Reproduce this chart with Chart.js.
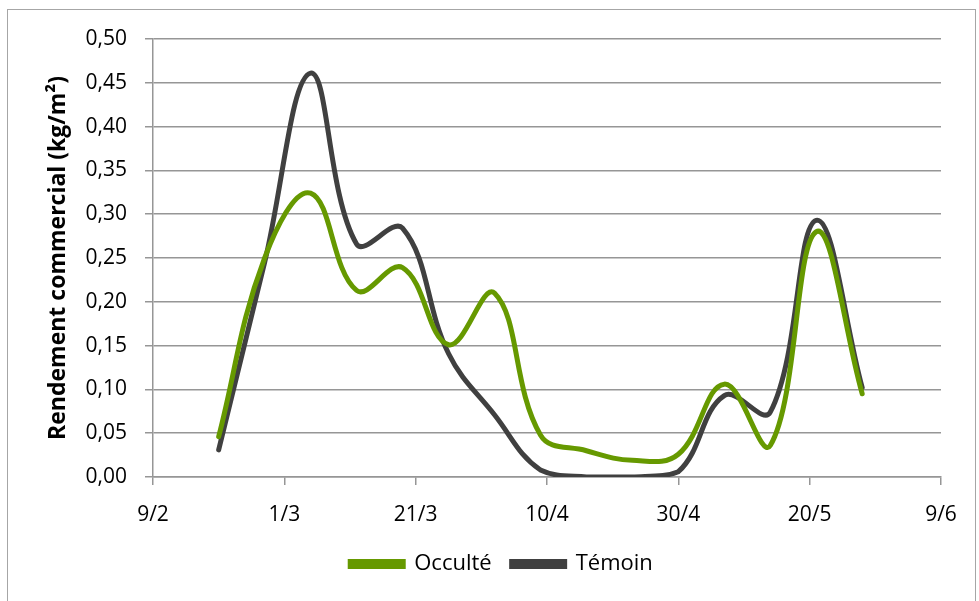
<!DOCTYPE html>
<html>
<head>
<meta charset="utf-8">
<script src="https://cdn.jsdelivr.net/npm/chart.js@4.4.0/dist/chart.umd.min.js"></script>
<style>
  html, body { margin: 0; padding: 0; background: #fff; overflow: hidden; }
  #wrap { position: relative; width: 979px; height: 601px; }
  #cadre { position: absolute; left: 7px; top: 9px; width: 969px; height: 640px; border: 1px solid #a6a6a6; box-sizing: border-box; }
  #graphique { position: absolute; left: 0; top: 0; }
</style>
</head>
<body>
<div id="wrap">
  <div id="cadre"></div>
  <canvas id="graphique" width="979" height="601"></canvas>
</div>
<script>
// Dates des récoltes (hebdomadaires)
const dates = ['19/2', '26/2', '5/3', '12/3', '19/3', '26/3', '2/4', '9/4', '16/4', '23/4', '30/4', '7/5', '14/5', '21/5', '28/5'];

// Rendement commercial (kg/m²)
const occulte = [0.046, 0.250, 0.324, 0.213, 0.239, 0.151, 0.210, 0.048, 0.030, 0.019, 0.026, 0.106, 0.036, 0.280, 0.095];
const temoin  = [0.031, 0.245, 0.461, 0.266, 0.284, 0.141, 0.071, 0.008, 0.000, 0.000, 0.006, 0.093, 0.074, 0.293, 0.102];

// Etiquettes de l'axe des dates, tous les 20 jours à partir du 9/2
const etiquettesX = ['9/2', '1/3', '21/3', '10/4', '30/4', '20/5', '9/6'];

// jours écoulés depuis le 9/2 (année non bissextile)
function jours(d) {
    const [j, m] = d.split('/').map(Number);
    return (Date.UTC(2019, m - 1, j) - Date.UTC(2019, 1, 9)) / 86400000;
}

const serie = (vals) => dates.map((d, i) => ({ x: jours(d), y: vals[i] }));

const police = "'Open Sans', sans-serif";
const gris = '#969696';

new Chart(document.getElementById('graphique'), {
    type: 'line',
    data: {
        datasets: [
            {
                label: 'Occulté',
                data: serie(occulte),
                borderColor: '#669900',
                backgroundColor: '#669900',
                borderWidth: 5,
                pointRadius: 0,
                tension: 0.4,
                borderCapStyle: 'round',
                fill: false
            },
            {
                label: 'Témoin',
                data: serie(temoin),
                borderColor: '#404040',
                backgroundColor: '#404040',
                borderWidth: 5,
                pointRadius: 0,
                tension: 0.4,
                borderCapStyle: 'round',
                fill: false
            }
        ]
    },
    options: {
        responsive: false,
        animation: false,
        // marge gauche pour recentrer la légende comme dans l'original
        layout: { padding: { top: 39, right: 38, left: 62, bottom: 16 } },
        plugins: {
            legend: {
                position: 'bottom',
                labels: {
                    boxWidth: 53,
                    boxHeight: 5,
                    padding: 20,
                    color: '#000',
                    font: { family: police, size: 22 }
                }
            },
            tooltip: { enabled: false }
        },
        scales: {
            x: {
                type: 'linear',
                min: 0,
                max: 120,
                afterBuildTicks: (s) => { s.ticks = etiquettesX.map((_, i) => ({ value: i * 20 })); },
                afterFit: (s) => { s.height = 56; },
                ticks: {
                    color: '#000',
                    padding: 17,
                    font: { family: police, size: 21 },
                    callback: (v) => etiquettesX[v / 20]
                },
                grid: { display: true, drawOnChartArea: false, color: gris, lineWidth: 1.5, tickLength: 8 },
                border: { color: gris, width: 1.5 }
            },
            y: {
                min: 0,
                max: 0.5,
                afterFit: (s) => { s.width = 91; },
                ticks: {
                    stepSize: 0.05,
                    color: '#000',
                    padding: 18,
                    font: { family: police, size: 21 },
                    callback: (v) => v.toFixed(2).replace('.', ',')
                },
                grid: { color: gris, lineWidth: 1.5, tickLength: 8 },
                border: { color: gris, width: 1.5 },
                title: {
                    display: true,
                    text: 'Rendement commercial (kg/m²)',
                    color: '#000',
                    font: { family: police, size: 23, weight: 'bold' },
                    padding: { top: -17, bottom: 0 }
                }
            }
        }
    }
});
</script>
</body>
</html>
